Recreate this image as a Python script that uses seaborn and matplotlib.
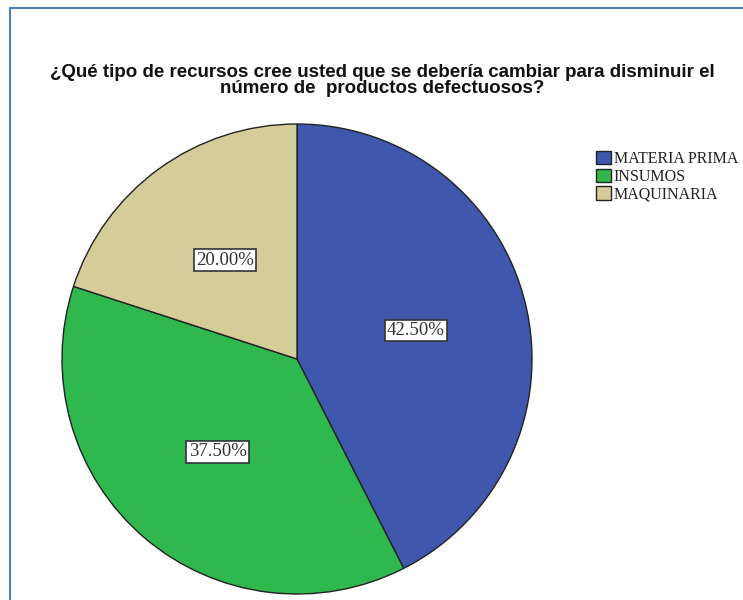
import matplotlib
matplotlib.use("Agg")
import matplotlib.pyplot as plt
from matplotlib.lines import Line2D
import seaborn as sns

# Survey answers (percent of respondents)
categories = ["MATERIA PRIMA", "INSUMOS", "MAQUINARIA"]
percentages = [42.5, 37.5, 20.0]
slice_colors = ["#3F58AE", "#2EB84D", "#D4CD99"]
title = ("¿Qué tipo de recursos cree usted que se debería cambiar para disminuir el\n"
         "número de  productos defectuosos?")

sns.set_theme(style="white")
plt.rcParams["font.family"] = ["Liberation Sans", "DejaVu Sans"]

W, H = 743, 600
fig = plt.figure(figsize=(W / 100, H / 100), dpi=100)
fig.patch.set_facecolor("white")

# Pie axes: centre (297, 359) px, radius 235 px
cx, cy, r = 297, 359, 235
ax = fig.add_axes([(cx - r) / W, (H - cy - r) / H, 2 * r / W, 2 * r / H])
palette = sns.color_palette(slice_colors)

wedges, texts, autotexts = ax.pie(
    percentages,
    colors=palette,
    startangle=90,
    counterclock=False,
    autopct="%.2f%%",
    pctdistance=0.52,
    wedgeprops=dict(edgecolor="#222222", linewidth=1.0),
    textprops=dict(family=["Liberation Serif"], fontsize=13.5, color="#333333"),
)
for t in autotexts:
    t.set_bbox(dict(facecolor="white", edgecolor="#333333", linewidth=1.2,
                    boxstyle="square,pad=0.12"))
ax.set_xlim(-1.0, 1.0)
ax.set_ylim(-1.0, 1.0)
ax.set_aspect("auto")
ax.axis("off")

fig.text(382 / W, 1 - 64 / H, title, ha="center", va="top", fontsize=13.5,
         fontweight="bold", color="#111111", linespacing=0.92)

leg = fig.legend(
    wedges, categories,
    loc="upper left", bbox_to_anchor=(596 / W, 1 - 151 / H),
    frameon=False, prop=dict(family="Liberation Serif", size=11.5),
    handlelength=0.95, handleheight=0.9, handletextpad=0.15, labelspacing=0.1,
    borderaxespad=0, borderpad=0,
)
for txt in leg.get_texts():
    txt.set_color("#222222")

# Frame lines along the top and left edges
frame_color = "#4F7FC0"
fig.add_artist(Line2D([10 / W, 1.0], [1 - 8 / H, 1 - 8 / H], color=frame_color, linewidth=1.5))
fig.add_artist(Line2D([10 / W, 10 / W], [0.0, 1 - 8 / H], color=frame_color, linewidth=1.5))

fig.savefig("out.png", dpi=100, facecolor="white")
